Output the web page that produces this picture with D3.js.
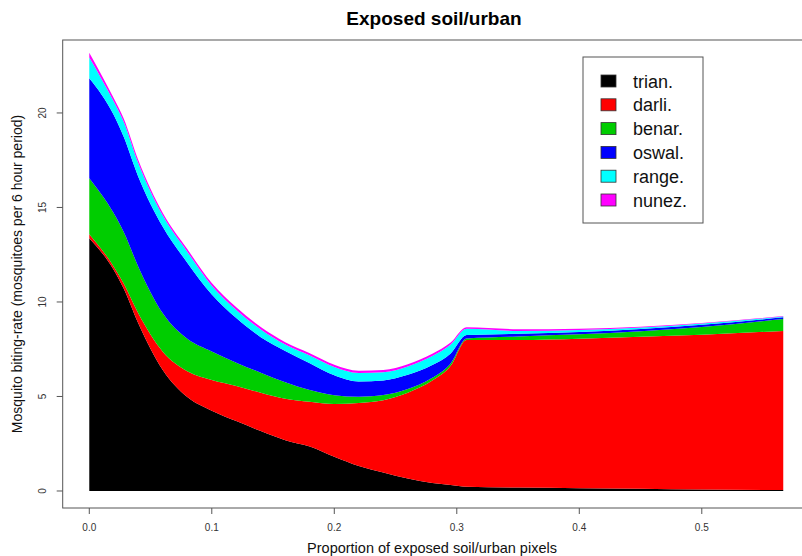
<!DOCTYPE html>
<html>
<head>
<meta charset="utf-8">
<script src="https://cdn.jsdelivr.net/npm/d3@7"></script>
<style>
  body { margin: 0; background: #fff; }
  svg { display: block; font-family: "Liberation Sans", Arial, sans-serif; }
</style>
</head>
<body>
<svg id="chart" width="802" height="556"></svg>
<script>
// proportion of exposed soil/urban pixels
const xs = [0, 0.02, 0.028, 0.04, 0.06, 0.08, 0.10, 0.12, 0.14, 0.16, 0.18, 0.20,
            0.22, 0.24, 0.26, 0.28, 0.295, 0.308, 0.35, 0.40, 0.45, 0.50, 0.5665];

// biting-rate per species (stacked bottom to top)
const trian = [13.37, 11.69, 10.72, 8.87, 6.40, 4.97, 4.25, 3.70, 3.17, 2.69, 2.35, 1.81,
               1.32, 0.98, 0.66, 0.42, 0.32, 0.23, 0.18, 0.15, 0.12, 0.08, 0.05];
const darli = [0.21, 0.18, 0.27, 0.53, 0.97, 1.37, 1.62, 1.86, 2.03, 2.19, 2.37, 2.79,
               3.34, 3.82, 4.54, 5.42, 6.30, 7.76, 7.81, 7.91, 8.04, 8.19, 8.42];
const benar = [2.97, 2.82, 2.73, 2.47, 2.03, 1.71, 1.51, 1.23, 1.06, 0.87, 0.62, 0.47,
               0.33, 0.28, 0.20, 0.15, 0.13, 0.08, 0.19, 0.23, 0.29, 0.41, 0.63];
const oswal = [5.29, 5.20, 5.03, 4.76, 4.58, 4.03, 3.02, 2.36, 1.88, 1.66, 1.42, 1.05,
               0.80, 0.77, 0.75, 0.67, 0.52, 0.18, 0.14, 0.12, 0.12, 0.11, 0.09];
const range = [1.10, 0.71, 0.80, 0.72, 0.59, 0.58, 0.46, 0.43, 0.41, 0.34, 0.41, 0.44,
               0.45, 0.43, 0.44, 0.48, 0.48, 0.33, 0.15, 0.11, 0.08, 0.07, 0.04];
const nunez = [0.25, 0.18, 0.17, 0.16, 0.14, 0.14, 0.14, 0.14, 0.12, 0.12, 0.12, 0.12,
               0.12, 0.12, 0.12, 0.12, 0.10, 0.08, 0.09, 0.07, 0.04, 0.03, 0.03];

const species = ['trian.', 'darli.', 'benar.', 'oswal.', 'range.', 'nunez.'];
const colors = ['#000000', '#ff0000', '#00cd00', '#0000ff', '#00ffff', '#ff00ff'];
const xTicks = [0, 0.1, 0.2, 0.3, 0.4, 0.5];
const yTicks = [0, 5, 10, 15, 20];

const series = [trian, darli, benar, oswal, range, nunez];
const rows = xs.map((x, i) => {
    let r = { x: x };
    species.forEach((s, k) => r[s] = series[k][i]);
    return r;
});

const svg = d3.select('#chart');
const box = { left: 62.7, right: 810.2, top: 40, bottom: 508 };

const x = d3.scaleLinear().domain([-0.0217, 0.5885]).range([box.left, box.right]);
const y = d3.scaleLinear().domain([-0.9, 23.86]).range([box.bottom, box.top]);

const stacked = d3.stack().keys(species)(rows);

const area = d3.area()
    .curve(d3.curveMonotoneX)
    .x(d => x(d.data.x))
    .y0(d => y(d[0]))
    .y1(d => y(d[1]));

svg.append('g')
    .selectAll('path')
    .data(stacked)
    .join('path')
    .attr('fill', (d, i) => colors[i])
    .attr('d', area);

// plot frame
svg.append('rect')
    .attr('x', box.left).attr('y', box.top)
    .attr('width', box.right - box.left).attr('height', box.bottom - box.top)
    .attr('fill', 'none').attr('stroke', '#555').attr('stroke-width', 1);

// x axis
const xAxis = svg.append('g');
xAxis.selectAll('line').data(xTicks).join('line')
    .attr('x1', d => x(d)).attr('x2', d => x(d))
    .attr('y1', box.bottom).attr('y2', box.bottom + 6)
    .attr('stroke', '#555');
xAxis.selectAll('text').data(xTicks).join('text')
    .attr('x', d => x(d)).attr('y', 531)
    .attr('text-anchor', 'middle')
    .attr('font-size', 10).attr('fill', '#333')
    .text(d => d.toFixed(1));

// y axis
const yAxis = svg.append('g');
yAxis.selectAll('line').data(yTicks).join('line')
    .attr('x1', box.left - 6).attr('x2', box.left)
    .attr('y1', d => y(d)).attr('y2', d => y(d))
    .attr('stroke', '#555');
yAxis.selectAll('text').data(yTicks).join('text')
    .attr('transform', d => `translate(46,${y(d)}) rotate(-90)`)
    .attr('text-anchor', 'middle')
    .attr('font-size', 10).attr('fill', '#333')
    .text(d => d);

// titles
svg.append('text')
    .attr('x', 434).attr('y', 25)
    .attr('text-anchor', 'middle')
    .attr('font-size', 19).attr('font-weight', 'bold')
    .text('Exposed soil/urban');

svg.append('text')
    .attr('x', 432).attr('y', 553)
    .attr('text-anchor', 'middle')
    .attr('font-size', 14.5).attr('fill', '#111')
    .text('Proportion of exposed soil/urban pixels');

svg.append('text')
    .attr('transform', `translate(22,${(box.top + box.bottom) / 2}) rotate(-90)`)
    .attr('text-anchor', 'middle')
    .attr('font-size', 14).attr('fill', '#111')
    .text('Mosquito biting-rate (mosquitoes per 6 hour period)');

// legend
const legend = svg.append('g');
legend.append('rect')
    .attr('x', 583).attr('y', 57).attr('width', 120).attr('height', 166)
    .attr('fill', '#fff').attr('stroke', '#555');
const items = legend.selectAll('g.item').data(species).join('g')
    .attr('class', 'item')
    .attr('transform', (d, i) => `translate(601,${81 + i * 23.8})`);
items.append('rect')
    .attr('x', 0).attr('y', -6).attr('width', 15).attr('height', 12)
    .attr('fill', (d, i) => colors[i]).attr('stroke', '#333').attr('stroke-width', 0.8);
items.append('text')
    .attr('x', 32).attr('y', 6.5)
    .attr('font-size', 18).attr('fill', '#111')
    .text(d => d);
</script>
</body>
</html>
